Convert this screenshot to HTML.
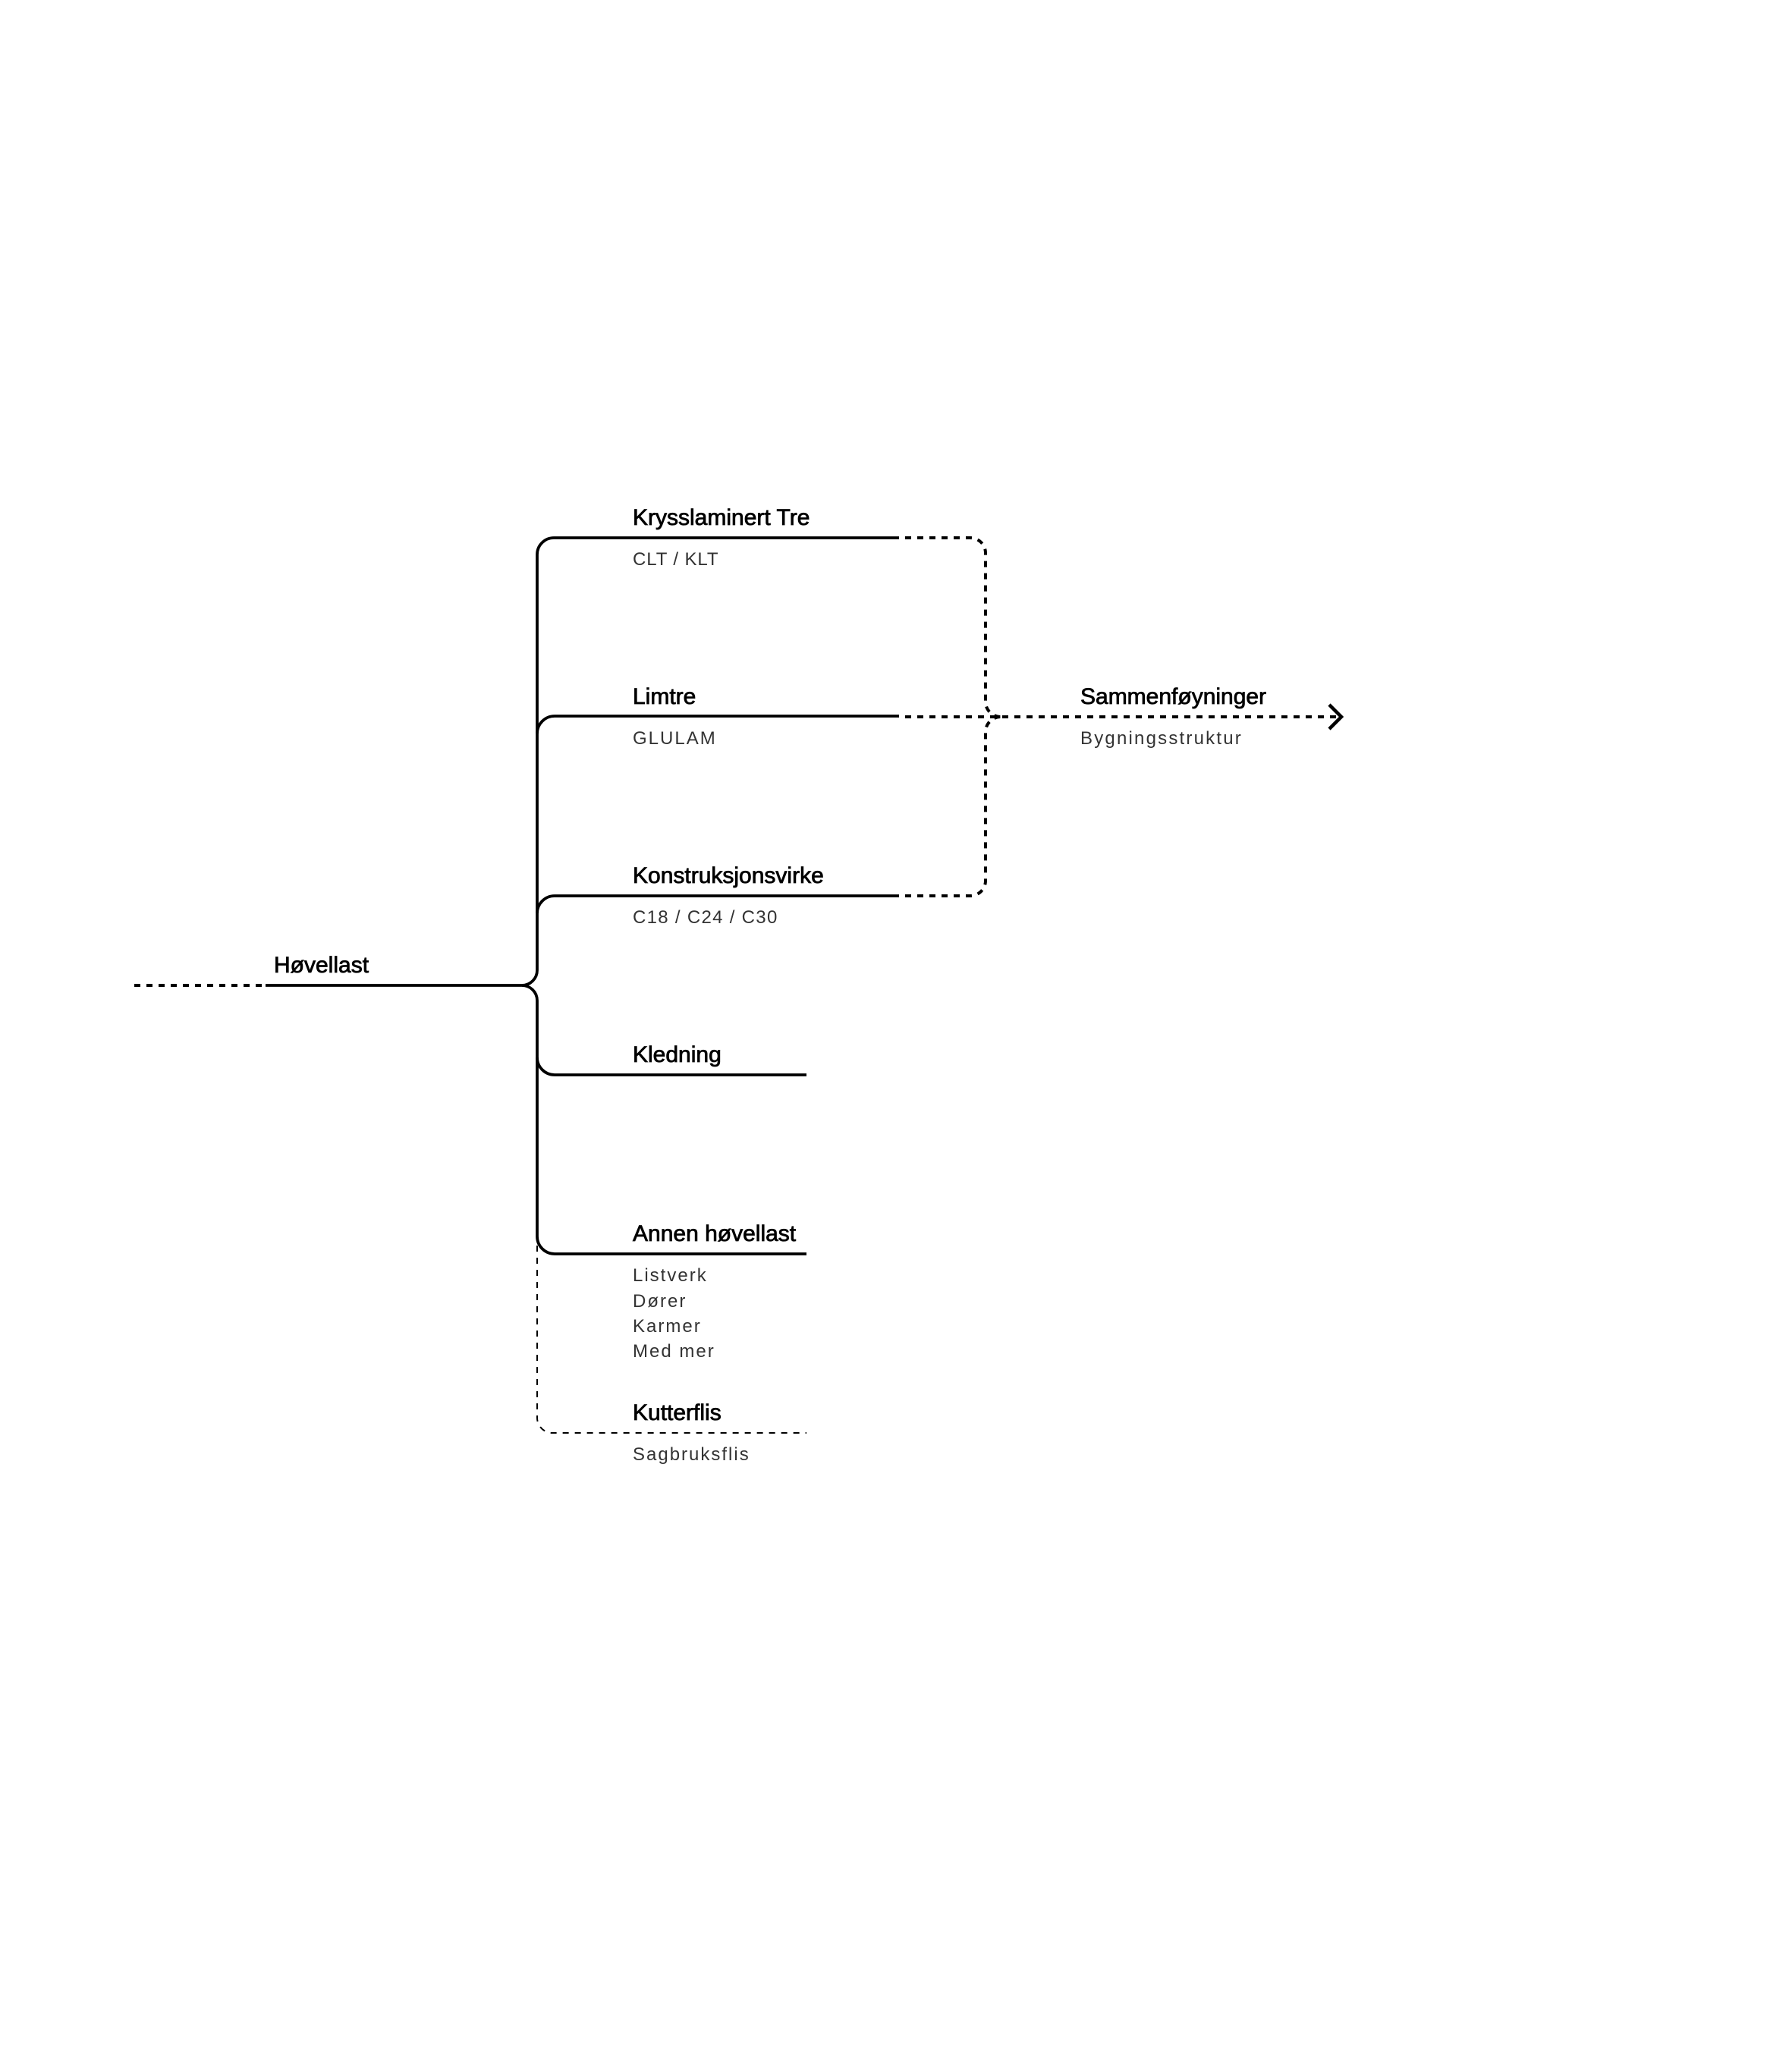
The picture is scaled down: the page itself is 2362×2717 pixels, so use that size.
<!DOCTYPE html>
<html>
<head>
<meta charset="utf-8">
<style>
  html, body { margin: 0; padding: 0; background: #ffffff; }
  body { width: 2362px; height: 2717px; overflow: hidden; }
  svg { display: block; }
  .lbl { font-family: "Liberation Sans", "DejaVu Sans", sans-serif; font-size: 30px; fill: #000; stroke: #000; stroke-width: 0.8px; }
  .sub { font-family: "Liberation Sans", "DejaVu Sans", sans-serif; font-size: 24px; fill: #333; letter-spacing: 2px; }
</style>
</head>
<body>
<svg width="2362" height="2717" viewBox="0 0 2362 2717" xmlns="http://www.w3.org/2000/svg">
  <rect width="2362" height="2717" fill="#ffffff"/>

  <!-- solid tree -->
  <g fill="none" stroke="#000" stroke-width="3.8" stroke-linecap="butt" stroke-linejoin="round">
    <path d="M350,1299 H688 A20,20 0 0 0 708,1279 V731 A22,22 0 0 1 730,709 H1185"/>
    <path d="M688,1299 A20,20 0 0 1 708,1319 V1630 A23,23 0 0 0 731,1653 H1063"/>
    <path d="M708,967 A23,23 0 0 1 731,944 H1185"/>
    <path d="M708,1204 A23,23 0 0 1 731,1181 H1185"/>
    <path d="M708,1394 A23,23 0 0 0 731,1417 H1063"/>
  </g>

  <!-- thick dashed -->
  <g fill="none" stroke="#000" stroke-width="4" stroke-dasharray="8 8">
    <path d="M177,1299 H346"/>
    <path d="M1193,709 H1279 A20,20 0 0 1 1299,729 V925 A20,20 0 0 0 1319,945"/>
    <path d="M1193,945 H1766"/>
    <path d="M1193,1181 H1279 A20,20 0 0 0 1299,1161 V965 A20,20 0 0 1 1319,945"/>
  </g>
  <!-- arrowhead -->
  <path d="M1752,929 L1768,945 L1752,961" fill="none" stroke="#000" stroke-width="4.5" stroke-linejoin="miter"/>

  <!-- thin dashed to Kutterflis -->
  <path d="M708,1642 V1869 A20,20 0 0 0 728,1889 H1063" fill="none" stroke="#000" stroke-width="2" stroke-dasharray="8 8"/>

  <!-- labels -->
  <text class="lbl" x="361" y="1282">Høvellast</text>

  <text class="lbl" x="834" y="692">Krysslaminert Tre</text>
  <text class="sub" x="834" y="745" style="letter-spacing:0.9px">CLT / KLT</text>

  <text class="lbl" x="834" y="928">Limtre</text>
  <text class="sub" x="834" y="981">GLULAM</text>

  <text class="lbl" x="834" y="1164">Konstruksjonsvirke</text>
  <text class="sub" x="834" y="1217" style="letter-spacing:1.3px">C18 / C24 / C30</text>

  <text class="lbl" x="834" y="1400">Kledning</text>

  <text class="lbl" x="834" y="1636">Annen høvellast</text>
  <text class="sub" x="834" y="1689">Listverk</text>
  <text class="sub" x="834" y="1723">Dører</text>
  <text class="sub" x="834" y="1756">Karmer</text>
  <text class="sub" x="834" y="1789">Med mer</text>

  <text class="lbl" x="834" y="1872">Kutterflis</text>
  <text class="sub" x="834" y="1925">Sagbruksflis</text>

  <text class="lbl" x="1424" y="928">Sammenføyninger</text>
  <text class="sub" x="1424" y="981" style="letter-spacing:2.2px">Bygningsstruktur</text>
</svg>
</body>
</html>
